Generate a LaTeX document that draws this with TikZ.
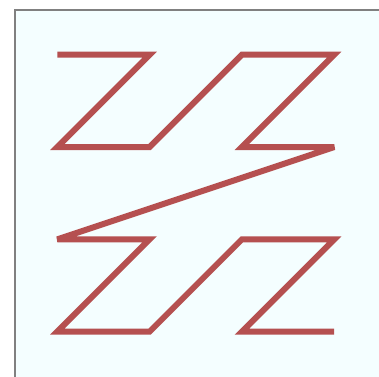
\documentclass[tikz,border=0pt]{standalone}
\definecolor{curvered}{RGB}{181,80,80}
\definecolor{paneback}{RGB}{244,254,255}
\tikzset{
  curve/.style={line width=1.84pt, draw=curvered, line cap=butt, line join=miter, miter limit=4},
  pane/.style={fill=paneback, draw=gray, line width=0.6pt}
}
\begin{document}
\begin{tikzpicture}[x=1cm,y=-1cm]
    \useasboundingbox (0,0) rectangle (4.106,4.074);
    \draw[pane] (0.160,0.105) rectangle (4.6,4.6);
    % grid points of the curve
    \foreach \k/\i/\j in {0/0/0,1/1/0,2/0/1,3/1/1,4/2/0,5/3/0,6/2/1,7/3/1,
                          8/0/2,9/1/2,10/0/3,11/1/3,12/2/2,13/3/2,14/2/3,15/3/3}
        \coordinate (p\k) at (0.621+\i,0.593+\j);
    \draw[curve] (p0) -- (p1) -- (p2) -- (p3) -- (p4) -- (p5) -- (p6) -- (p7)
        -- (p8) -- (p9) -- (p10) -- (p11) -- (p12) -- (p13) -- (p14) -- (p15);
\end{tikzpicture}
\end{document}
